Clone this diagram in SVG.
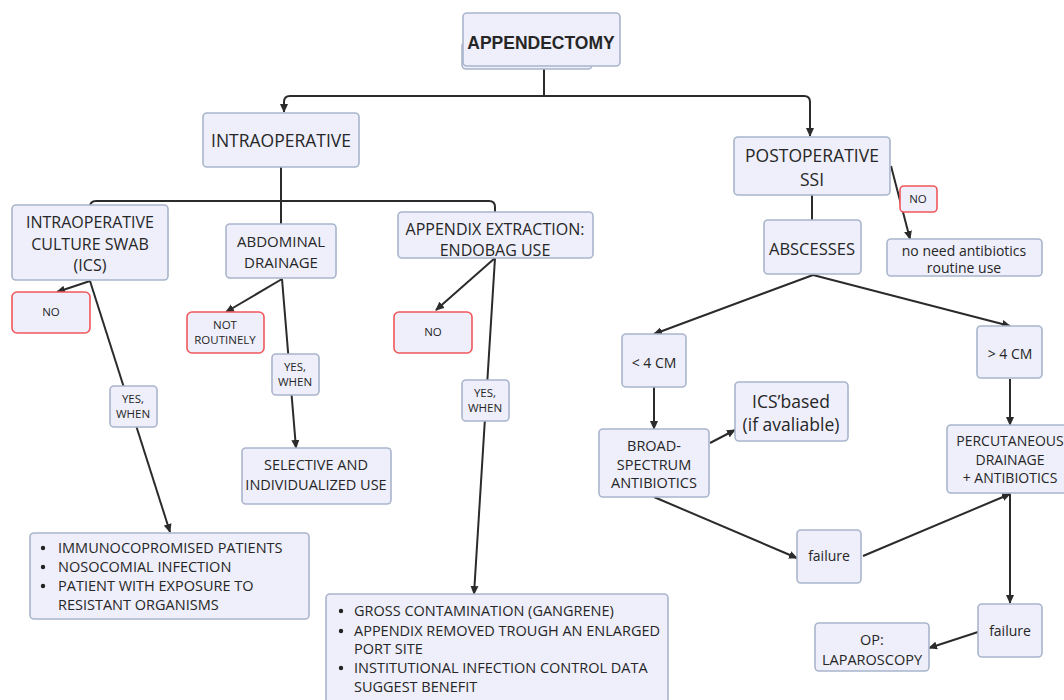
<svg xmlns="http://www.w3.org/2000/svg" width="1064" height="700" viewBox="0 0 1064 700">
<defs>
<marker id="ah" markerUnits="userSpaceOnUse" markerWidth="9" markerHeight="9" refX="8" refY="4.5" orient="auto">
<path d="M0,0.5 L9,4.5 L0,8.5 z" fill="#2b2b2b"/>
</marker>
<style>
.b{fill:#eeeffb;stroke:#a9b5cb;stroke-width:1.6}
.r{fill:#eeeffb;stroke:#f0575b;stroke-width:1.6}
.c{fill:none;stroke:#2b2b2b;stroke-width:2}
.a{fill:none;stroke:#2b2b2b;stroke-width:2;marker-end:url(#ah)}
text{font-family:"Open Sans","Liberation Sans",sans-serif;font-weight:500;fill:#262626;text-anchor:middle}
.s11{font-size:11.5px}
.s14{font-size:14px}
.s145{font-size:14.5px}
.s15{font-size:15px}
.s16{font-size:16px}
.s17{font-size:17.5px}
.l{text-anchor:start;font-size:14.5px}
</style>
</defs>
<rect width="1064" height="700" fill="#fff"/>

<g id="connectors">
<path class="c" d="M544,66 V96"/>
<path class="a" d="M544,96 H290 Q284,96 284,102 V112"/>
<path class="a" d="M544,96 H804 Q810,96 810,102 V136"/>
<path class="c" d="M281,167 V224"/>
<path class="c" d="M281,201 H96 Q90,201 90,207"/>
<path class="c" d="M281,201 H489 Q495,201 495,207 V212"/>
<path class="a" d="M90,281 L57,292"/>
<path class="a" d="M90,281 L170,532"/>
<path class="a" d="M282,279 L226,312"/>
<path class="a" d="M282,279 L296,448"/>
<path class="a" d="M495,258 L436,310"/>
<path class="a" d="M495,258 L474,594"/>
<path class="a" d="M891,166 L910,239"/>
<path class="c" d="M812,195 V220"/>
<path class="a" d="M813,275 L654,334"/>
<path class="a" d="M813,275 L1010,326"/>
<path class="a" d="M654,387 V429"/>
<path class="a" d="M710,443 L735,430"/>
<path class="a" d="M654,497 L797,558"/>
<path class="a" d="M863,556 L1010,494"/>
<path class="a" d="M1010,379 V425"/>
<path class="a" d="M1010,494 V603"/>
<path class="a" d="M978,632 L929,648"/>
</g>

<g id="appendectomy">
<rect class="b" x="462" y="42" width="130" height="27" rx="4"/>
<rect class="b" x="463" y="13" width="157" height="53" rx="4"/>
<text x="541" y="49" style="font-family:'Liberation Sans',Arial,sans-serif;font-weight:bold;font-size:17.5px" fill="#222">APPENDECTOMY</text>
</g>

<g id="intraoperative">
<rect class="b" x="203" y="113" width="156" height="54" rx="4"/>
<text class="s17" x="281" y="147">INTRAOPERATIVE</text>
</g>

<g id="postoperative">
<rect class="b" x="734" y="137" width="156" height="58" rx="4"/>
<text class="s17" x="812" y="162">POSTOPERATIVE</text>
<text class="s17" x="812" y="186">SSI</text>
</g>

<g id="ics">
<rect class="b" x="12" y="205" width="156" height="75" rx="4"/>
<text class="s16" x="90" y="228">INTRAOPERATIVE</text>
<text class="s16" x="90" y="250">CULTURE SWAB</text>
<text class="s16" x="90" y="271">(ICS)</text>
</g>

<g id="abdominal">
<rect class="b" x="226" y="224" width="110" height="54" rx="4"/>
<text class="s15" x="281" y="247">ABDOMINAL</text>
<text class="s15" x="281" y="268">DRAINAGE</text>
</g>

<g id="endobag">
<rect class="b" x="398" y="212" width="195" height="46" rx="4"/>
<text class="s16" x="495" y="235">APPENDIX EXTRACTION:</text>
<text class="s16" x="495" y="256">ENDOBAG USE</text>
</g>

<g id="ics-no">
<rect class="r" x="12" y="292" width="78" height="41" rx="5"/>
<text class="s11" x="51" y="316">NO</text>
</g>

<g id="ics-yes">
<rect class="b" x="110" y="386" width="47" height="41" rx="4"/>
<text class="s11" x="133" y="403">YES,</text>
<text class="s11" x="133" y="418">WHEN</text>
</g>

<g id="ics-list">
<rect class="b" x="30" y="533" width="279" height="86" rx="4"/>
<circle cx="43" cy="548" r="2.2" fill="#222"/>
<circle cx="43" cy="567" r="2.2" fill="#222"/>
<circle cx="43" cy="586" r="2.2" fill="#222"/>
<text class="l" x="58" y="553">IMMUNOCOPROMISED PATIENTS</text>
<text class="l" x="58" y="572">NOSOCOMIAL INFECTION</text>
<text class="l" x="58" y="591">PATIENT WITH EXPOSURE TO</text>
<text class="l" x="58" y="610">RESISTANT ORGANISMS</text>
</g>

<g id="drain-no">
<rect class="r" x="187" y="312" width="77" height="41" rx="5"/>
<text class="s11" x="225" y="329">NOT</text>
<text class="s11" x="225" y="344">ROUTINELY</text>
</g>

<g id="drain-yes">
<rect class="b" x="272" y="354" width="47" height="41" rx="4"/>
<text class="s11" x="295" y="371">YES,</text>
<text class="s11" x="295" y="386">WHEN</text>
</g>

<g id="selective">
<rect class="b" x="242" y="448" width="149" height="56" rx="4"/>
<text class="s145" x="316" y="470">SELECTIVE AND</text>
<text class="s145" x="316" y="490">INDIVIDUALIZED USE</text>
</g>

<g id="endobag-no">
<rect class="r" x="394" y="312" width="78" height="41" rx="5"/>
<text class="s11" x="433" y="336">NO</text>
</g>

<g id="endobag-yes">
<rect class="b" x="462" y="380" width="47" height="41" rx="4"/>
<text class="s11" x="485" y="397">YES,</text>
<text class="s11" x="485" y="412">WHEN</text>
</g>

<g id="endobag-list">
<rect class="b" x="326" y="594" width="342" height="110" rx="4"/>
<circle cx="341" cy="611" r="2.2" fill="#222"/>
<circle cx="341" cy="631" r="2.2" fill="#222"/>
<circle cx="341" cy="668" r="2.2" fill="#222"/>
<text class="l" x="354" y="616">GROSS CONTAMINATION (GANGRENE)</text>
<text class="l" x="354" y="636">APPENDIX REMOVED TROUGH AN ENLARGED</text>
<text class="l" x="354" y="654">PORT SITE</text>
<text class="l" x="354" y="673">INSTITUTIONAL INFECTION CONTROL DATA</text>
<text class="l" x="354" y="692">SUGGEST BENEFIT</text>
</g>

<g id="post-no">
<rect class="r" x="900" y="186" width="37" height="26" rx="4"/>
<text class="s11" x="918" y="203">NO</text>
</g>

<g id="no-need">
<rect class="b" x="887" y="239" width="155" height="37" rx="4"/>
<text class="s14" x="964" y="256">no need antibiotics</text>
<text class="s14" x="964" y="273">routine use</text>
</g>

<g id="abscesses">
<rect class="b" x="764" y="220" width="97" height="54" rx="4"/>
<text style="font-size:16.5px" x="812" y="255">ABSCESSES</text>
</g>

<g id="lt4">
<rect class="b" x="622" y="334" width="64" height="53" rx="4"/>
<text class="s14" x="654" y="368">&lt; 4 CM</text>
</g>

<g id="gt4">
<rect class="b" x="977" y="326" width="65" height="52" rx="4"/>
<text class="s14" x="1010" y="359">&gt; 4 CM</text>
</g>

<g id="broad">
<rect class="b" x="599" y="429" width="110" height="68" rx="4"/>
<text class="s145" x="654" y="451">BROAD-</text>
<text class="s145" x="654" y="470">SPECTRUM</text>
<text class="s145" x="654" y="488">ANTIBIOTICS</text>
</g>

<g id="ics-based">
<rect class="b" x="735" y="382" width="113" height="59" rx="4"/>
<text x="791" y="408" style="font-size:17.5px">ICS’based</text>
<text x="791" y="431" style="font-size:17.5px">(if avaliable)</text>
</g>

<g id="failure1">
<rect class="b" x="797" y="530" width="64" height="53" rx="4"/>
<text class="s14" x="829" y="561">failure</text>
</g>

<g id="percutaneous">
<rect class="b" x="947" y="425" width="125" height="68" rx="4"/>
<text class="s14" x="1010" y="446">PERCUTANEOUS</text>
<text class="s14" x="1010" y="465">DRAINAGE</text>
<text class="s14" x="1010" y="483">+ ANTIBIOTICS</text>
</g>

<g id="failure2">
<rect class="b" x="978" y="604" width="64" height="53" rx="4"/>
<text class="s14" x="1010" y="636">failure</text>
</g>

<g id="op">
<rect class="b" x="815" y="623" width="114" height="48" rx="4"/>
<text class="s145" x="872" y="645">OP:</text>
<text class="s145" x="872" y="665">LAPAROSCOPY</text>
</g>
</svg>
